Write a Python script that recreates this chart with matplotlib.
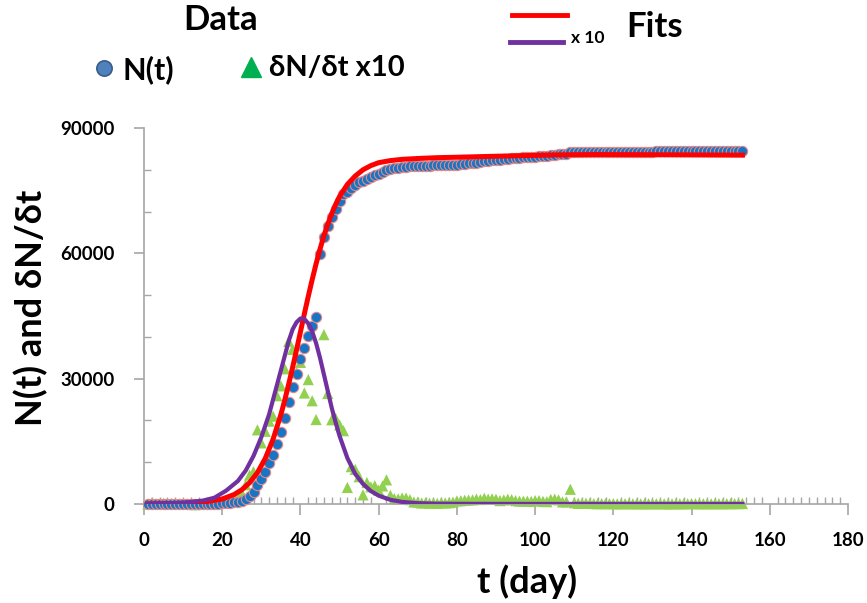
import numpy as np
import matplotlib
matplotlib.use("Agg")
import matplotlib.pyplot as plt
from matplotlib.lines import Line2D
from matplotlib.ticker import MultipleLocator

plt.rcParams['font.family'] = ['Lato', 'DejaVu Sans']
plt.rcParams['font.weight'] = 'bold'

# cumulative cases N(t), t = 1, 2, 3, ...
N = [0, 27, 27, 27, 44, 44, 59, 59, 59, 59, 59, 59, 41, 41, 41, 41, 41, 45, 62, 121,
     198, 291, 440, 572, 834, 1293, 1985, 2758, 4533, 5996, 7736, 9719, 11821, 14413,
     17240, 20476, 24367, 28068, 31216, 34606, 37262, 40239, 42710, 44731, 59886,
     63939, 66584, 68600, 70653, 72546, 74300, 74696, 75590, 76418, 77071, 77290,
     77803, 78214, 78652, 78984, 79416, 79994, 80201, 80331, 80455, 80599, 80742,
     80846, 80895, 80940, 80964, 80993, 81013, 81038, 81054, 81084, 81110, 81141,
     81184, 81258, 81337, 81428, 81524, 81623, 81741, 81848, 81985, 82100, 82224,
     82339, 82420, 82518, 82634, 82739, 82820, 82889, 82959, 83028, 83090, 83172,
     83255, 83317, 83373, 83482, 83600, 83699, 83750, 83801, 84154, 84184, 84201,
     84216, 84235, 84250, 84260, 84268, 84279, 84288, 84297, 84306, 84311, 84318,
     84327, 84335, 84341, 84347, 84354, 84359, 84365, 84372, 84378, 84385, 84391,
     84395, 84400, 84406, 84413, 84418, 84426, 84436, 84445, 84452, 84459, 84466,
     84473, 84481, 84489, 84496, 84505, 84513, 84523, 84533, 84545]

# daily increase x10
dN10 = [0, 270, 0, 0, 170, 0, 150, 0, 0, 0, 0, 0, -180, 0, 0, 0, 0, 40, 170, 590,
        770, 930, 1490, 1320, 2620, 4590, 6920, 7730, 17750, 14630, 17400, 19830,
        21020, 25920, 28270, 32360, 38910, 37010, 31480, 33900, 26560, 29770, 24710,
        20210, 151550, 40530, 26450, 20160, 20530, 18930, 17540, 3960, 8940, 8280,
        6530, 2190, 5130, 4110, 4380, 3320, 4320, 5780, 2070, 1300, 1240, 1440, 1430,
        1040, 490, 450, 240, 290, 200, 250, 160, 300, 260, 310, 430, 740, 790, 910,
        960, 990, 1180, 1070, 1370, 1150, 1240, 1150, 810, 980, 1160, 1050, 810, 690,
        700, 690, 620, 820, 830, 620, 560, 1090, 1180, 990, 510, 510, 3530, 300, 170,
        150, 190, 150, 100, 80, 110, 90, 90, 90, 50, 70, 90, 80, 60, 60, 70, 50, 60,
        70, 60, 70, 60, 40, 50, 60, 70, 50, 80, 100, 90, 70, 70, 70, 70, 80, 80, 70,
        90, 80, 100, 100, 120]

# fits
fit_t = [1, 10, 15, 20, 23, 25, 27, 29, 31, 33, 35, 36, 37, 38, 39, 40, 41, 42, 43,
         44, 45, 46, 47, 48, 49, 50, 52, 54, 56, 58, 60, 63, 66, 70, 75, 80, 86, 95,
         105, 115, 130, 153]
fit_N = [25, 150, 430, 1200, 2250, 3400, 5100, 7500, 10900, 15500, 21400, 24900,
         28700, 32700, 36900, 41200, 45500, 49700, 53700, 57500, 61000, 64200, 67000,
         69500, 71700, 73600, 76500, 78500, 80000, 81000, 81700, 82200, 82500, 82700,
         82900, 83000, 83150, 83350, 83550, 83650, 83600, 83500]

fitd_t = [1, 10, 15, 18, 21, 24, 26, 28, 30, 32, 34, 35, 36, 37, 38, 39, 40, 41, 42,
          43, 44, 45, 46, 47, 48, 49, 50, 52, 54, 56, 58, 60, 63, 66, 70, 75, 85, 100,
          153]
fitd = [50, 300, 800, 1500, 3200, 5500, 8000, 11500, 16000, 21500, 28500, 32000,
        35500, 39000, 41800, 43500, 44400, 44300, 43200, 41300, 38500, 35000, 31000,
        27000, 23000, 19500, 16300, 11000, 7200, 4800, 3100, 2000, 1000, 500, 200, 80,
        30, 20, 10]

t = np.arange(1, len(N) + 1)
td = np.arange(1, len(dN10) + 1)
dN10 = np.array(dN10)
show = dN10 <= 90000

fig = plt.figure(figsize=(8.67, 6.03), dpi=100)
ax = fig.add_axes([144/867, 1 - 504/603, 704/867, 376/603])

ax.scatter(td[show], dN10[show], marker='^', s=65, c='#92d050', edgecolors='none',
           clip_on=False, zorder=2)
ax.scatter(t, N, marker='o', s=55, c='#1874c4', edgecolors='#e08a8a', linewidths=0.8,
           clip_on=False, zorder=3)
ax.plot(fit_t, fit_N, color='#ff0000', lw=3.6, zorder=4)
ax.plot(fitd_t, fitd, color='#7030a0', lw=3.0, zorder=5)

ax.set_xlim(0, 180)
ax.set_ylim(0, 90000)
ax.xaxis.set_major_locator(MultipleLocator(20))
ax.xaxis.set_minor_locator(MultipleLocator(2))
ax.yaxis.set_major_locator(MultipleLocator(30000))
ax.yaxis.set_minor_locator(MultipleLocator(10000))

for s in ['top', 'right']:
    ax.spines[s].set_visible(False)
for s in ['left', 'bottom']:
    ax.spines[s].set_color('#a6a6a6')
    ax.spines[s].set_linewidth(1.2)

ax.tick_params(axis='x', which='major', direction='out', length=8, width=1.2,
               color='#a6a6a6', pad=12, labelsize=13.5)
ax.tick_params(axis='x', which='minor', direction='in', length=5, width=1,
               color='#a6a6a6')
ax.tick_params(axis='y', which='major', direction='out', length=7, width=1.2,
               color='#a6a6a6', pad=14, labelsize=13.5)
ax.tick_params(axis='y', which='minor', direction='in', length=5, width=1,
               color='#a6a6a6')
for lab in ax.get_xticklabels() + ax.get_yticklabels():
    lab.set_fontweight('bold')

fig.text(527/867, 1 - 582/603, 't (day)', ha='center', va='center', fontsize=26,
         fontweight='bold')
fig.text(31/867, 1 - 308/603, 'N(t) and δN/δt', ha='center', va='center',
         rotation=90, fontsize=26, fontweight='bold')

# legend drawn by hand
tf = fig.transFigure
fig.text(221/867, 1 - 20/603, 'Data', ha='center', va='center', fontsize=25,
         fontweight='bold')
fig.add_artist(Line2D([104/867], [1 - 68/603], marker='o', ms=11, mfc='#4f81bd',
                      mec='#385d8a', mew=1.2, transform=tf))
fig.text(122/867, 1 - 70/603, 'N(t)', ha='left', va='center', fontsize=22,
         fontweight='bold')
fig.add_artist(Line2D([251/867], [1 - 67/603], marker='^', ms=15, mfc='#00b050',
                      mec='#00b050', transform=tf))
fig.text(269/867, 1 - 68/603, 'δN/δt x10', ha='left', va='center', fontsize=21,
         fontweight='bold')
fig.add_artist(Line2D([512/867, 567/867], [1 - 15/603, 1 - 15/603], color='#ff0000',
                      lw=3.5, transform=tf))
fig.add_artist(Line2D([510/867, 563/867], [1 - 42/603, 1 - 42/603], color='#7030a0',
                      lw=3.5, transform=tf))
fig.text(571/867, 1 - 38/603, 'x 10', ha='left', va='center', fontsize=12.5,
         fontweight='bold')
fig.text(626/867, 1 - 27/603, 'Fits', ha='left', va='center', fontsize=25,
         fontweight='bold')

fig.savefig('out.png', dpi=100, facecolor='white')
